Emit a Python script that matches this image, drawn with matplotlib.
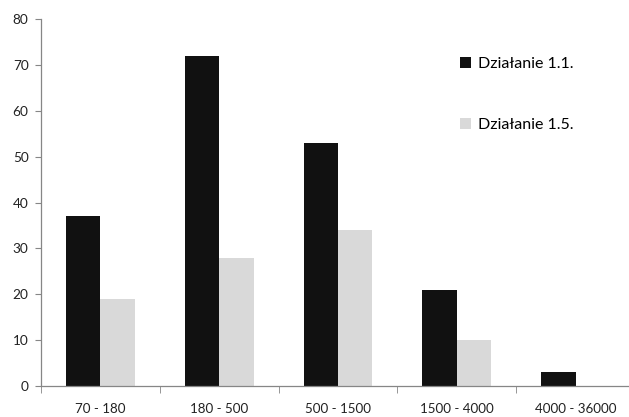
import matplotlib.pyplot as plt
from matplotlib.patches import Patch
import numpy as np

# --- Data ---
categories = ['70 - 180', '180 - 500', '500 - 1500', '1500 - 4000', '4000 - 36000']
dzialanie_11 = [37, 72, 53, 21, 3]
dzialanie_15 = [19, 28, 34, 10, 0]
series_labels = ['Działanie 1.1.', 'Działanie 1.5.']
colors = ['#111111', '#d9d9d9']
axis_color = '#868686'

plt.rcParams['font.family'] = ['Lato', 'DejaVu Sans']

fig = plt.figure(figsize=(6.29, 4.17), dpi=100)
# plot area runs slightly past the right edge of the figure
ax = fig.add_axes([41 / 629, 1 - 386 / 417, 594 / 629, 367 / 417])

x = np.arange(len(categories))
width = 0.29
ax.bar(x - width / 2, dzialanie_11, width, color=colors[0])
ax.bar(x + width / 2, dzialanie_15, width, color=colors[1])

ax.set_xlim(-0.5, len(categories) - 0.5)
ax.set_ylim(0, 80)
ax.set_yticks(range(0, 81, 10))

# category labels between boundary ticks
ax.set_xticks(x)
ax.set_xticklabels(categories, fontsize=9.6, color='#222222')
ax.tick_params(axis='x', length=0, pad=12)
ax.set_xticks(np.arange(len(categories)) - 0.5, minor=True)
ax.tick_params(axis='x', which='minor', length=5, color=axis_color, direction='out')
ax.tick_params(axis='y', length=4, color=axis_color, labelsize=9.8, pad=5,
               labelcolor='#222222')

for side in ['top', 'right']:
    ax.spines[side].set_visible(False)
for side in ['left', 'bottom']:
    ax.spines[side].set_color(axis_color)
    ax.spines[side].set_linewidth(0.9)

handles = [Patch(facecolor=c, edgecolor='none') for c in colors]
ax.legend(handles, series_labels, loc='upper left', bbox_to_anchor=(0.681, 0.936),
          frameon=False, fontsize=11.5, labelspacing=2.95, borderpad=0.4,
          handlelength=0.7, handleheight=0.7, handletextpad=0.45)

fig.savefig('out.png', dpi=100)
